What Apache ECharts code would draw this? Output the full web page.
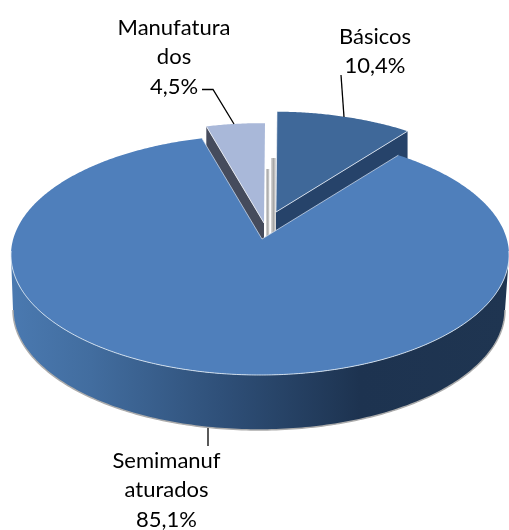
<!DOCTYPE html>
<html><head><meta charset="utf-8">
<style>html,body{margin:0;padding:0;background:#fff}#c{width:509px;height:530px}</style>
<script src="https://cdn.jsdelivr.net/npm/echarts@6/dist/echarts.min.js"></script>
</head><body><div id="c"></div>
<script>
const categories = ['Básicos', 'Semimanufaturados', 'Manufaturados'];
const values = [10.4, 85.1, 4.5];
const labelLines = [['Básicos', '10,4%'], ['Semimanuf', 'aturados', '85,1%'], ['Manufatura', 'dos', '4,5%']];

// view geometry of the tilted pie
const G = {cx: 260, cy: 255, rx: 249, ry: 120, a: -0.133, apexDx: 2, thick: 55, bcx: 259, brx: 246, rot: 0.8};
const drawOrder = [0, 2, 1];
const explode = [{dx: 14, dy: -27, s: 0.965}, {dx: 0, dy: 0, s: 1}, {dx: 2, dy: -16, s: 0.96}];
const colors = ['#3F6899', '#4F7FBB', '#A9B8D9'];
const wallColors = ['#26436A', null, '#454B5C'];
const labelPos = [{x: 375, y: 37}, {x: 166.5, y: 461}, {x: 174, y: 28}];
const leaders = [
  [[341, 75], [344, 117]],
  [[208, 428], [208, 446]],
  [[202, 89.5], [213, 89.5], [234, 124]]
];

function rim(t) {
  const r = (t + G.rot) * Math.PI / 180, x = Math.sin(r), y = -Math.cos(r), d = 1 + G.a * y;
  return [G.cx + G.rx * x * Math.sqrt(1 - G.a * G.a) / d, G.cy + G.ry * (y + G.a) / d];
}
const baseApex = [G.cx + G.apexDx, G.cy + G.ry * G.a];
const total = values.reduce((s, v) => s + v, 0);
function sliceGeom(i) {
  let start = 0;
  for (let k = 0; k < i; k++) start += values[k] / total * 360;
  const end = start + values[i] / total * 360;
  const e = explode[i];
  const move = p => [baseApex[0] + e.dx + e.s * (p[0] - baseApex[0]), baseApex[1] + e.dy + e.s * (p[1] - baseApex[1])];
  const arc = [];
  for (let t = start; t < end; t += 0.5) arc.push(move(rim(t)));
  arc.push(move(rim(end)));
  return {apex: move(baseApex), arc};
}
const down = (p, h) => [p[0], p[1] + h];
function line(points, stroke, width) {
  return {type: 'polyline', shape: {points}, style: {fill: null, stroke, lineWidth: width}};
}
function poly(points, fill) {
  return {type: 'polygon', shape: {points}, style: {fill, stroke: null}};
}
function sideWall() {
  const pts = [], front = [];
  for (let k = 0; k <= 180; k++) {
    const r = k * Math.PI / 180;
    front.push([G.bcx - G.brx * Math.cos(r), G.cy + G.thick + G.ry * Math.sin(r)]);
  }
  for (let k = 180; k >= 0; k--) {
    const r = k * Math.PI / 180;
    pts.push([G.cx - G.rx * Math.cos(r), G.cy + G.ry * Math.sin(r)]);
  }
  const wall = poly(front.concat(pts), {
    type: 'linear', x: 0, y: 0, x2: 1, y2: 0,
    colorStops: [
      {offset: 0, color: '#4A79B0'}, {offset: 0.16, color: '#426D9F'}, {offset: 0.42, color: '#2F5079'},
      {offset: 0.7, color: '#1D3350'}, {offset: 1, color: '#1F3551'}
    ]
  });
  return [wall, line(front, '#ABABAB', 1.5)];
}
function sliver(x, w, top, bottom) {
  return {
    type: 'rect', shape: {x, y: top, width: w, height: bottom - top},
    style: {fill: {type: 'linear', x: 0, y: 0, x2: 1, y2: 0, colorStops: [
      {offset: 0, color: '#D8D8D8'}, {offset: 0.5, color: '#A8A8A8'}, {offset: 1, color: '#E2E2E2'}
    ]}}
  };
}
function renderSlice(params, api) {
  const i = api.value(0);
  const g = sliceGeom(i);
  const first = g.arc[0], last = g.arc[g.arc.length - 1];
  const kids = [];
  const top = poly([g.apex].concat(g.arc), colors[i]);
  if (i === 0) {
    kids.push(poly([g.apex, last, down(last, 45), down(g.apex, 45)], wallColors[i]));
    kids.push(sliver(g.apex[0] - 5, 5, 158, 245));
    kids.push(top, line([g.apex, last], 'rgba(225,232,242,0.85)', 1));
    kids.push(line([first, g.apex], 'rgba(255,255,255,0.6)', 1));
  } else if (i === 2) {
    kids.push(poly([g.apex, first, down(first, 45), down(g.apex, 45)], wallColors[i]));
    kids.push(sliver(g.apex[0] + 2, 3.5, 169, 245));
    kids.push(top, line([first, g.apex], 'rgba(235,238,245,0.9)', 1));
  } else {
    kids.push(...sideWall());
    kids.push(top);
    const front = g.arc.filter(p => p[1] > G.cy - 5);
    kids.push(line(front, 'rgba(225,235,245,0.85)', 1));
    kids.push(line([first, g.apex, last], 'rgba(215,225,240,0.7)', 1));
  }
  return {type: 'group', children: kids};
}
function renderLabel(params, api) {
  const i = api.value(0);
  const kids = [line(leaders[i], '#000', 1.3)];
  labelLines[i].forEach((txt, n) => kids.push({
    type: 'text',
    style: {
      text: txt, x: labelPos[i].x, y: labelPos[i].y + n * 29.3,
      fontFamily: 'Lato', fontSize: 22, fill: '#000', align: 'center', verticalAlign: 'middle'
    }
  }));
  return {type: 'group', children: kids};
}
const chart = echarts.init(document.getElementById('c'), null, {renderer: 'canvas'});
chart.setOption({
  animation: false,
  backgroundColor: '#fff',
  series: [
    {type: 'custom', coordinateSystem: 'none', silent: true, clip: false, renderItem: renderSlice,
     data: drawOrder.map(i => ({name: categories[i], value: [i, values[i]]}))},
    {type: 'custom', coordinateSystem: 'none', silent: true, clip: false, renderItem: renderLabel, z: 5,
     data: drawOrder.map(i => ({name: categories[i], value: [i, values[i]]}))}
  ]
});
</script></body></html>
